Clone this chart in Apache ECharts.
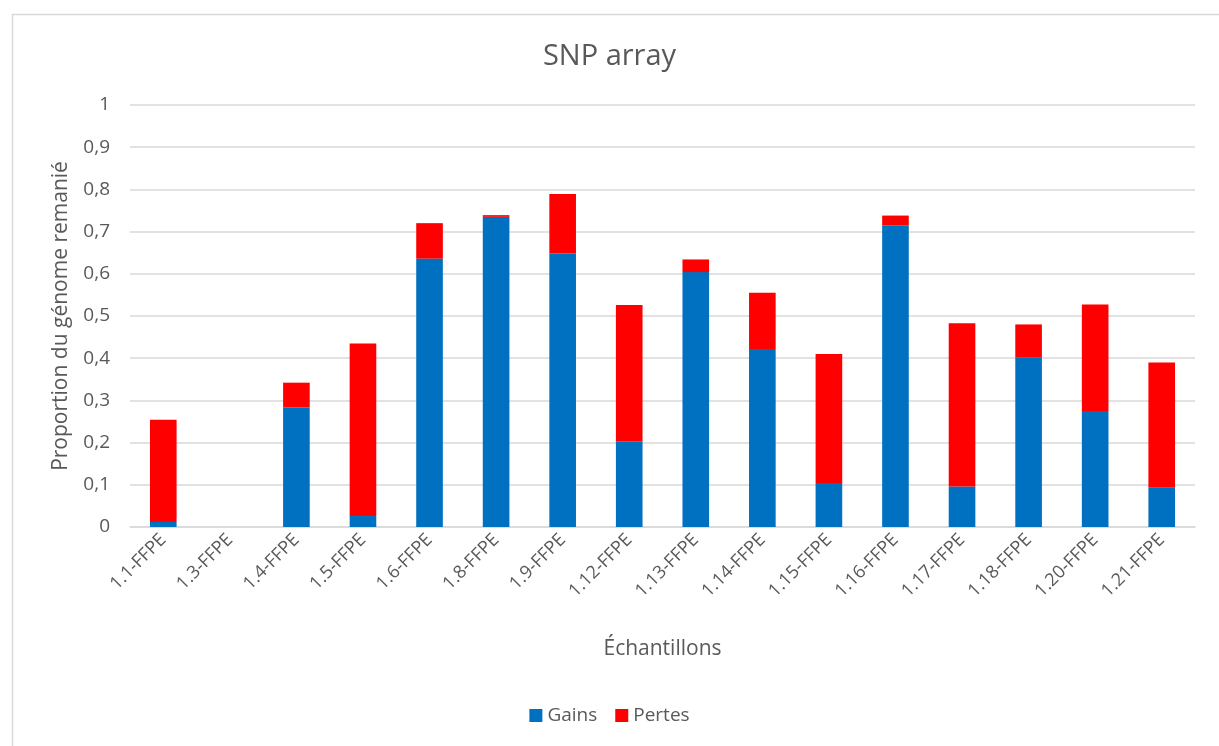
<!DOCTYPE html>
<html><head><meta charset="utf-8">
<script src="https://cdn.jsdelivr.net/npm/echarts@6/dist/echarts.min.js"></script>
<style>html,body{margin:0;padding:0;background:#fff}#c{width:1219px;height:746px}</style>
</head><body><div id="c"></div>
<script>
var categories = ['1.1-FFPE','1.3-FFPE','1.4-FFPE','1.5-FFPE','1.6-FFPE','1.8-FFPE','1.9-FFPE','1.12-FFPE','1.13-FFPE','1.14-FFPE','1.15-FFPE','1.16-FFPE','1.17-FFPE','1.18-FFPE','1.20-FFPE','1.21-FFPE'];
var gains  = [0.012, 0, 0.284, 0.026, 0.636, 0.735, 0.648, 0.203, 0.604, 0.422, 0.104, 0.714, 0.096, 0.402, 0.275, 0.093];
var pertes = [0.242, 0, 0.058, 0.409, 0.084, 0.004, 0.141, 0.323, 0.030, 0.133, 0.306, 0.024, 0.387, 0.078, 0.252, 0.297];
var yTicks = [0, 0.1, 0.2, 0.3, 0.4, 0.5, 0.6, 0.7, 0.8, 0.9, 1];

var font = '"Open Sans", "Liberation Sans", sans-serif';
var chart = echarts.init(document.getElementById('c'), null, {renderer: 'canvas'});
chart.setOption({
  animation: false,
  backgroundColor: '#fff',
  textStyle: {fontFamily: font},
  graphic: [{type: 'rect', left: 10, top: 12, shape: {width: 1400, height: 900}, style: {fill: 'none', stroke: '#d9d9d9', lineWidth: 1.5}, silent: true}],
  title: {text: 'SNP array', left: 'center', top: 37, textStyle: {fontFamily: font, fontSize: 29, fontWeight: 'normal', color: '#595959'}},
  legend: {bottom: 16, left: 'center', itemWidth: 13, itemHeight: 13, itemGap: 18, icon: 'rect',
    textStyle: {fontFamily: font, fontSize: 19, color: '#595959'}, data: ['Gains', 'Pertes']},
  grid: {left: 130, right: 24, top: 105, bottom: 219, containLabel: false},
  xAxis: {type: 'category', data: categories,
    name: 'Échantillons', nameLocation: 'middle', nameGap: 112,
    nameTextStyle: {fontFamily: font, fontSize: 21, color: '#595959'},
    axisLine: {lineStyle: {color: '#d9d9d9', width: 1.5}}, axisTick: {show: false},
    axisLabel: {rotate: 45, fontFamily: font, fontSize: 18, color: '#595959', margin: 10, interval: 0}},
  yAxis: {type: 'value', min: 0, max: 1, interval: 0.1,
    name: 'Proportion du génome remanié', nameLocation: 'middle', nameGap: 58,
    nameTextStyle: {fontFamily: font, fontSize: 21, color: '#595959'},
    axisLine: {show: false}, axisTick: {show: false},
    splitLine: {lineStyle: {color: '#d9d9d9', width: 1.5}},
    axisLabel: {fontFamily: font, fontSize: 19, color: '#595959', margin: 20,
      formatter: function (v) { var t = yTicks.reduce(function(a, b){ return Math.abs(b - v) < Math.abs(a - v) ? b : a; }); return String(Math.round(t * 10) / 10).replace('.', ','); }}},
  series: [
    {name: 'Gains', type: 'bar', stack: 'total', data: gains, barWidth: '40%', itemStyle: {color: '#0070C0'}},
    {name: 'Pertes', type: 'bar', stack: 'total', data: pertes, barWidth: '40%', itemStyle: {color: '#FF0000'}}
  ]
});
</script></body></html>
